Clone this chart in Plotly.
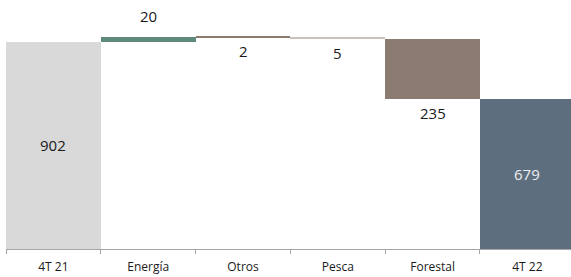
import plotly.graph_objects as go

categories = ["4T 21", "Energía", "Otros", "Pesca", "Forestal", "4T 22"]
changes = [902, 20, -2, -5, -235, 679]
kinds = ["total", "delta", "delta", "delta", "delta", "total"]
labels = ["902", "20", "2", "5", "235", "679"]
colors = ["#d9d9d9", "#5f8a7b", "#8b7b6e", "#c9c2bc", "#8c7b70", "#5d6e7e"]
label_colors = ["#1a1a1a", "#1a1a1a", "#1a1a1a", "#1a1a1a", "#1a1a1a", "#eeeeee"]

y_range = [92, 1066]

bases, heights = [], []
running = 0
for v, k in zip(changes, kinds):
    if k == "total":
        bases.append(0)
        heights.append(v)
        running = v
    else:
        if v >= 0:
            bases.append(running)
        else:
            bases.append(running + v)
        heights.append(abs(v))
        running += v

fig = go.Figure(go.Bar(
    x=categories, y=heights, base=bases,
    marker=dict(color=colors, line=dict(width=0)),
    hoverinfo="skip",
))

annotations = []
for i, (cat, k, v, b, h, t, c) in enumerate(zip(categories, kinds, changes, bases, heights, labels, label_colors)):
    if k == "total":
        ymid = (max(b, y_range[0]) + b + h) / 2
        annotations.append(dict(x=cat, y=ymid, text=t, showarrow=False,
                                font=dict(size=15, color=c), yanchor="middle"))
    elif v >= 0:
        annotations.append(dict(x=cat, y=b + h, text=t, showarrow=False,
                                font=dict(size=15, color=c), yanchor="middle", yshift=21))
    else:
        annotations.append(dict(x=cat, y=b, text=t, showarrow=False,
                                font=dict(size=15, color=c), yanchor="middle", yshift=-14))

fig.update_layout(
    width=571, height=277,
    margin=dict(l=6, r=0, t=0, b=28),
    paper_bgcolor="white", plot_bgcolor="white",
    font=dict(family="Open Sans", color="#1a1a1a"),
    bargap=0,
    showlegend=False,
    annotations=annotations,
    xaxis=dict(
        range=[-0.5, 5.46],
        showline=True, linecolor="#a6a6a6", linewidth=1,
        ticks="outside", tickson="boundaries", ticklen=4, tickcolor="#a6a6a6",
        ticklabelstandoff=7,
        tickfont=dict(size=12, color="#1a1a1a"),
        showgrid=False, zeroline=False, fixedrange=True,
    ),
    yaxis=dict(range=y_range, visible=False, showgrid=False, zeroline=False),
)

fig.write_html("out.html", config={"displayModeBar": False},
               post_script="document.body.style.margin='0';")
